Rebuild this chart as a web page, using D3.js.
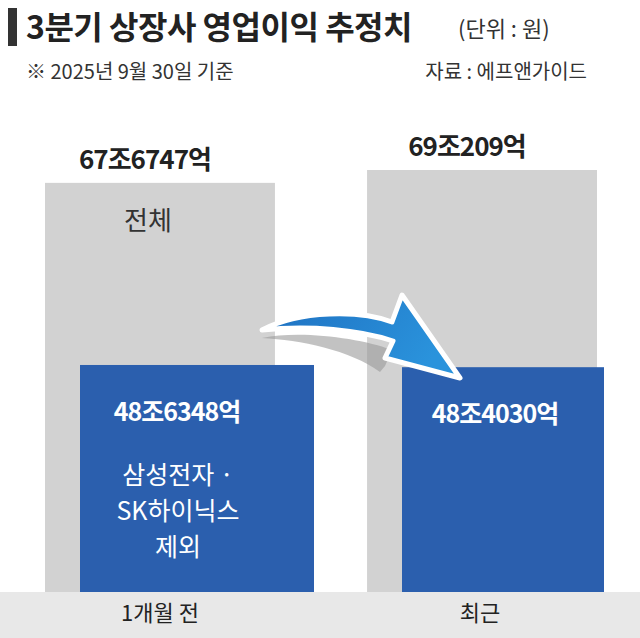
<!DOCTYPE html>
<html><head><meta charset="utf-8">
<script src="https://cdn.jsdelivr.net/npm/d3@7"></script>
<style>body{margin:0;background:#fff}svg{display:block;font-family:"Noto Sans CJK KR",sans-serif}</style>
</head><body>
<script>
// data (조 원)
const periods = ["1개월 전", "최근"]
const totalVals = [67.6747, 69.0209]
const exSamsungVals = [48.6348, 48.4030]
const totalLabels = ["67조6747억", "69조209억"]
const exLabels = ["48조6348억", "48조4030억"]

const W = 640, H = 638, base = 592
const svg = d3.select("body").append("svg").attr("width", W).attr("height", H)

// title
svg.append("rect").attr("x", 8).attr("y", 8).attr("width", 9).attr("height", 38).attr("fill", "#333")
svg.append("text").attr("x", 26).attr("y", 39).attr("font-size", 32).attr("font-weight", 700).attr("fill", "#222")
  .attr("letter-spacing", -0.5).text("3분기 상장사 영업이익 추정치")
svg.append("text").attr("x", 458).attr("y", 37).attr("font-size", 22).attr("fill", "#333").text("(단위 : 원)")
svg.append("text").attr("x", 26).attr("y", 79).attr("font-size", 20).attr("fill", "#333").text("※ 2025년 9월 30일 기준")
svg.append("text").attr("x", 587).attr("y", 79).attr("font-size", 20).attr("fill", "#333").attr("text-anchor", "end").text("자료 : 에프앤가이드")

const x = d3.scaleBand().domain(periods).range([45, 597]).paddingInner(0.286)
const y = d3.scaleLinear().domain([24.9, 69.02]).range([base, 170])

// bottom strip
svg.append("rect").attr("x", 0).attr("y", base).attr("width", W).attr("height", H - base).attr("fill", "#e8e8e8")

// gray bars
svg.selectAll(".tot").data(periods).join("rect")
  .attr("x", d => x(d)).attr("y", (d, i) => y(totalVals[i]))
  .attr("width", x.bandwidth()).attr("height", (d, i) => base - y(totalVals[i]))
  .attr("fill", "#d2d2d2")
svg.selectAll(".totl").data(periods).join("text")
  .attr("x", d => x(d) + x.bandwidth() / 2 - 15).attr("y", (d, i) => y(totalVals[i]) - 14)
  .attr("text-anchor", "middle").attr("font-size", 26).attr("font-weight", 700).attr("fill", "#222")
  .attr("letter-spacing", -1).text((d, i) => totalLabels[i])
svg.append("text").attr("x", 148).attr("y", 230)
  .attr("text-anchor", "middle").attr("font-size", 26).attr("fill", "#333").text("전체")

// blue bars
const bx = [80, 402], bw = [234, 202]
svg.selectAll(".ex").data(periods).join("rect")
  .attr("x", (d, i) => bx[i]).attr("y", (d, i) => y(exSamsungVals[i]))
  .attr("width", (d, i) => bw[i]).attr("height", (d, i) => base - y(exSamsungVals[i]))
  .attr("fill", "#2b5fae")
svg.selectAll(".exl").data(periods).join("text")
  .attr("x", (d, i) => bx[i] + bw[i] / 2 - (i ? 8 : 20)).attr("y", (d, i) => y(exSamsungVals[i]) + 56)
  .attr("text-anchor", "middle").attr("font-size", 25).attr("font-weight", 700).attr("fill", "#fff")
  .attr("letter-spacing", -1).text((d, i) => exLabels[i])
const note = svg.append("text").attr("text-anchor", "middle").attr("font-size", 25).attr("fill", "#fff")
;["삼성전자 ·", "SK하이닉스", "제외"].forEach((t, i) =>
  note.append("tspan").attr("x", 178).attr("y", 484 + i * 36).text(t))

// x labels
svg.selectAll(".xl").data(periods).join("text")
  .attr("x", (d, i) => i ? 480 : 160).attr("y", 621)
  .attr("text-anchor", "middle").attr("font-size", 22).attr("fill", "#222").text(d => d)

// arrow
const defs = svg.append("defs")
const g = defs.append("linearGradient").attr("id", "ag").attr("x1", 0).attr("x2", 1).attr("y1", 0).attr("y2", 0.3)
g.append("stop").attr("offset", 0).attr("stop-color", "#1e6fc0")
g.append("stop").attr("offset", 1).attr("stop-color", "#2a93dc")
const arrow = "M262,330 C300,310 360,310 392,322 L402,295 L460,378 L385,358 L393,341 C360,330 310,325 262,330 Z"
svg.append("path").attr("d", "M262,338 C300,330 360,338 392,350 L385,366 L380,372 C350,350 300,340 262,338 Z")
  .attr("fill", "#9a9a9a").attr("opacity", 0.6)
svg.append("path").attr("d", arrow).attr("fill", "url(#ag)").attr("stroke", "#fff").attr("stroke-width", 5).attr("stroke-linejoin", "round")
</script>
</body></html>
